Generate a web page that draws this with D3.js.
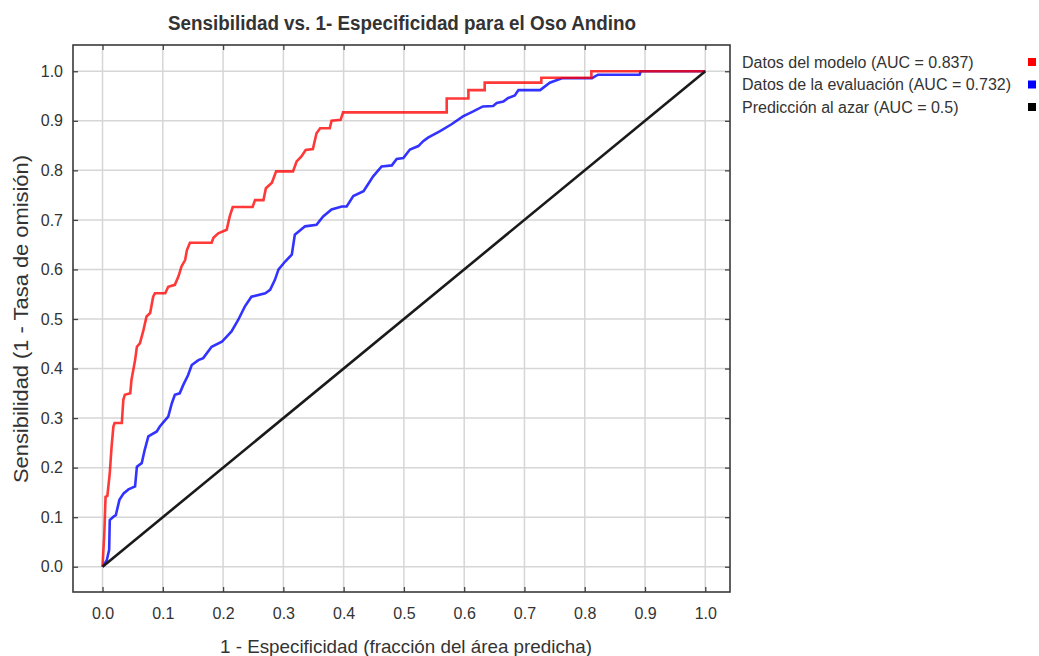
<!DOCTYPE html>
<html>
<head>
<meta charset="utf-8">
<script src="https://cdn.jsdelivr.net/npm/d3@7"></script>
<style>
  html, body { margin: 0; padding: 0; background: #fff; }
  svg text { font-family: "Liberation Sans", Arial, sans-serif; fill: #333; }
</style>
</head>
<body>
<svg id="chart" width="1039" height="656"></svg>
<script>
// ROC curves for the Andean bear (Oso Andino) distribution model
const chartTitle = "Sensibilidad vs. 1- Especificidad para el Oso Andino";
const xLabel = "1 - Especificidad (fracción del área predicha)";
const yLabel = "Sensibilidad (1 - Tasa de omisión)";

const xTicks = [0.0, 0.1, 0.2, 0.3, 0.4, 0.5, 0.6, 0.7, 0.8, 0.9, 1.0];
const yTicks = [0.0, 0.1, 0.2, 0.3, 0.4, 0.5, 0.6, 0.7, 0.8, 0.9, 1.0];

const seriesNames = [
  "Datos del modelo (AUC = 0.837)",
  "Datos de la evaluación (AUC = 0.732)",
  "Predicción al azar (AUC = 0.5)"
];
const seriesColors = ["#ff0000", "#0000ff", "#000000"];

// Training data curve: [1 - specificity, sensitivity]
const modelCurve = [
  [0,0],[0.003,0.068],[0.005,0.141],[0.008,0.143],[0.012,0.189],[0.015,0.242],
  [0.018,0.283],[0.02,0.29],[0.032,0.29],[0.0345,0.337],[0.037,0.347],[0.046,0.35],
  [0.048,0.377],[0.054,0.417],[0.057,0.444],[0.062,0.451],[0.068,0.478],[0.073,0.505],
  [0.079,0.512],[0.084,0.545],[0.087,0.552],[0.104,0.552],[0.109,0.565],[0.12,0.569],
  [0.126,0.586],[0.131,0.606],[0.137,0.619],[0.14,0.639],[0.145,0.654],[0.181,0.654],
  [0.184,0.664],[0.192,0.673],[0.206,0.68],[0.211,0.707],[0.216,0.726],[0.249,0.726],
  [0.253,0.74],[0.267,0.74],[0.271,0.764],[0.281,0.775],[0.288,0.798],[0.316,0.798],
  [0.322,0.818],[0.33,0.828],[0.337,0.841],[0.349,0.843],[0.355,0.875],[0.361,0.885],
  [0.377,0.885],[0.38,0.9],[0.395,0.902],[0.399,0.917],[0.571,0.917],[0.571,0.945],
  [0.607,0.945],[0.607,0.962],[0.634,0.962],[0.634,0.977],[0.728,0.977],[0.728,0.987],
  [0.811,0.987],[0.811,1.0],[1.0,1.0]
];

// Test data curve: [1 - specificity, sensitivity]
const evalCurve = [
  [0,0],[0.002,0.003],[0.007,0.013],[0.011,0.034],[0.012,0.094],[0.018,0.101],
  [0.022,0.104],[0.028,0.135],[0.035,0.148],[0.043,0.156],[0.054,0.162],[0.057,0.202],
  [0.065,0.209],[0.07,0.236],[0.076,0.263],[0.09,0.273],[0.095,0.283],[0.109,0.303],
  [0.115,0.33],[0.12,0.347],[0.128,0.35],[0.134,0.367],[0.142,0.387],[0.148,0.407],
  [0.159,0.417],[0.167,0.421],[0.181,0.444],[0.198,0.454],[0.214,0.475],[0.225,0.498],
  [0.236,0.525],[0.247,0.545],[0.27,0.552],[0.278,0.559],[0.286,0.579],[0.292,0.6],
  [0.303,0.616],[0.314,0.63],[0.319,0.67],[0.336,0.687],[0.355,0.69],[0.366,0.707],
  [0.38,0.721],[0.397,0.727],[0.405,0.727],[0.416,0.748],[0.433,0.758],[0.449,0.788],
  [0.463,0.808],[0.48,0.81],[0.488,0.823],[0.499,0.825],[0.51,0.842],[0.524,0.849],
  [0.532,0.859],[0.54,0.866],[0.56,0.879],[0.579,0.893],[0.598,0.909],[0.615,0.919],
  [0.631,0.929],[0.648,0.93],[0.654,0.936],[0.665,0.939],[0.673,0.946],[0.684,0.951],
  [0.69,0.962],[0.726,0.962],[0.742,0.977],[0.762,0.986],[0.812,0.986],[0.822,0.993],
  [0.891,0.993],[0.893,1.0],[1.0,1.0]
];

// Random prediction reference line
const randomLine = [[0,0],[1,1]];

const svg = d3.select("#chart");
const plot = { left: 73, top: 45, width: 657, height: 547 };

const x = d3.scaleLinear().domain([-0.049, 1.041])
  .range([plot.left, plot.left + plot.width]);
const y = d3.scaleLinear().domain([-0.051, 1.053])
  .range([plot.top + plot.height, plot.top]);

const g = svg.append("g");

// grid
g.append("g").selectAll("line").data(xTicks).join("line")
  .attr("x1", d => x(d)).attr("x2", d => x(d))
  .attr("y1", plot.top).attr("y2", plot.top + plot.height)
  .attr("stroke", "#d6d6d6").attr("stroke-width", 1.5);
g.append("g").selectAll("line").data(yTicks).join("line")
  .attr("y1", d => y(d)).attr("y2", d => y(d))
  .attr("x1", plot.left).attr("x2", plot.left + plot.width)
  .attr("stroke", "#d6d6d6").attr("stroke-width", 1.5);

// axes with inward ticks on all four sides
const fmt = d3.format(".1f");
const axB = g.append("g").attr("transform", `translate(0,${plot.top + plot.height})`)
  .call(d3.axisBottom(x).tickValues(xTicks).tickFormat(fmt).tickSizeInner(-5).tickSizeOuter(0).tickPadding(16));
const axT = g.append("g").attr("transform", `translate(0,${plot.top})`)
  .call(d3.axisTop(x).tickValues(xTicks).tickFormat("").tickSizeInner(-5).tickSizeOuter(0));
const axL = g.append("g").attr("transform", `translate(${plot.left},0)`)
  .call(d3.axisLeft(y).tickValues(yTicks).tickFormat(fmt).tickSizeInner(-5).tickSizeOuter(0).tickPadding(10));
const axR = g.append("g").attr("transform", `translate(${plot.left + plot.width},0)`)
  .call(d3.axisRight(y).tickValues(yTicks).tickFormat("").tickSizeInner(-5).tickSizeOuter(0));
[axB, axT, axL, axR].forEach(a => {
  a.select(".domain").remove();
  a.selectAll(".tick line").attr("stroke", "#444").attr("stroke-width", 1.3);
  a.selectAll("text").attr("font-size", 16).attr("fill", "#333")
    .style("font-family", '"Liberation Sans", Arial, sans-serif');
});

// frame
g.append("rect")
  .attr("x", plot.left).attr("y", plot.top)
  .attr("width", plot.width).attr("height", plot.height)
  .attr("fill", "none").attr("stroke", "#3a3a3a").attr("stroke-width", 1.6);

// curves
const line = d3.line().x(d => x(d[0])).y(d => y(d[1]));
const curves = [
  { data: evalCurve, color: seriesColors[1], opacity: 0.8 },
  { data: modelCurve, color: seriesColors[0], opacity: 0.78 },
  { data: randomLine, color: "#1a1a1a", opacity: 1 }
];
g.append("g").selectAll("path").data(curves).join("path")
  .attr("d", d => line(d.data))
  .attr("fill", "none")
  .attr("stroke", d => d.color)
  .attr("stroke-opacity", d => d.opacity)
  .attr("stroke-width", 2.6)
  .attr("stroke-linejoin", "miter");

// title (condensed bold)
svg.append("text")
  .attr("x", 402).attr("y", 30)
  .attr("text-anchor", "middle")
  .attr("font-size", 20).attr("font-weight", "bold")
  .attr("fill", "#222")
  .attr("textLength", 468).attr("lengthAdjust", "spacingAndGlyphs")
  .style("font-family", '"Liberation Sans Narrow", "Arial Narrow", "Liberation Sans", sans-serif')
  .text(chartTitle);

// axis titles
svg.append("text")
  .attr("x", 406).attr("y", 653)
  .attr("text-anchor", "middle")
  .attr("font-size", 18.5)
  .attr("textLength", 372).attr("lengthAdjust", "spacingAndGlyphs")
  .text(xLabel);
svg.append("text")
  .attr("transform", "translate(28,319) rotate(-90)")
  .attr("text-anchor", "middle")
  .attr("font-size", 20)
  .attr("textLength", 328).attr("lengthAdjust", "spacingAndGlyphs")
  .text(yLabel);

// legend
const legend = svg.append("g").selectAll("g").data(seriesNames).join("g")
  .attr("transform", (d, i) => `translate(742,${62 + i * 22.5})`);
legend.append("text")
  .attr("y", 5.5)
  .attr("font-size", 16)
  .attr("fill", "#333")
  .text(d => d);
legend.append("rect")
  .attr("x", 286).attr("y", -4)
  .attr("width", 8).attr("height", 8)
  .attr("fill", (d, i) => seriesColors[i]);
</script>
</body>
</html>
